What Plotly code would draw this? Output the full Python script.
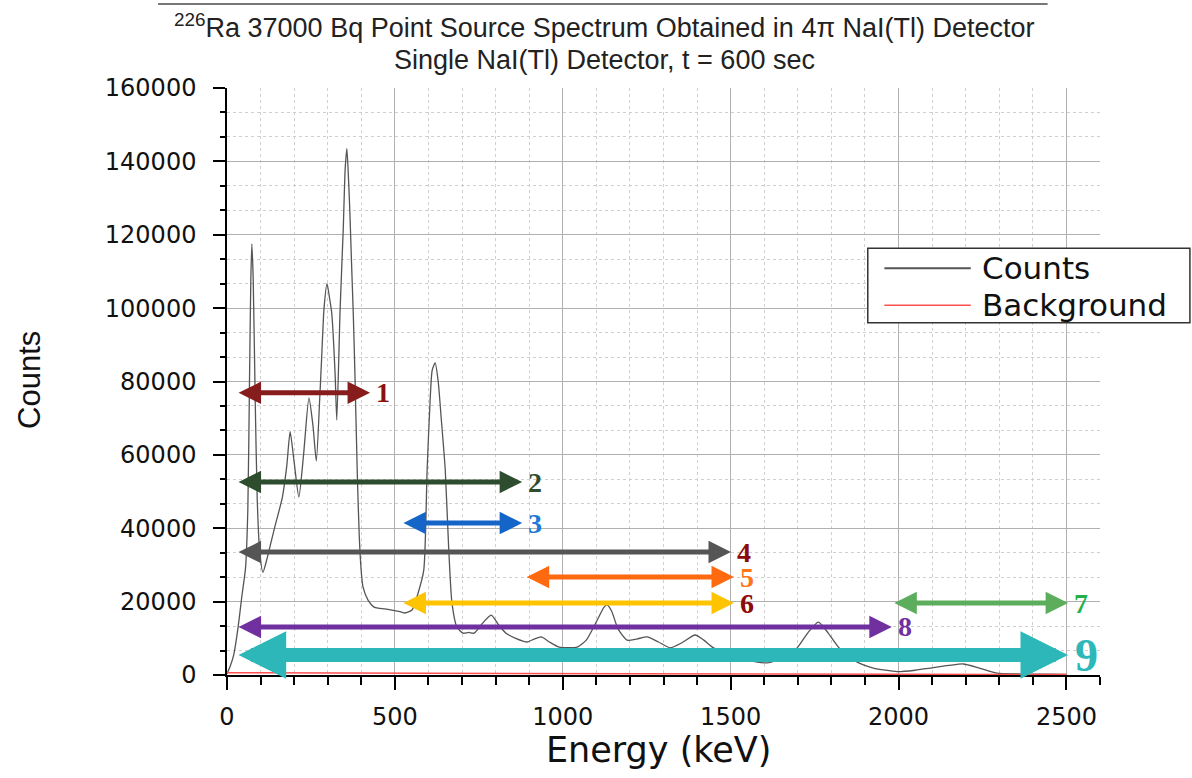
import plotly.graph_objects as go

# ---------------- data ----------------
energy_kev = [0, 10, 20, 33, 45, 55, 62, 67, 71, 74, 78, 84, 90, 97, 107, 120, 140, 165, 178, 188,
              200, 214, 228, 244, 256, 266, 276, 282, 289, 298, 305, 312, 322, 327, 337, 346, 352,
              357, 362, 366, 371, 376, 381, 388, 394, 400, 405, 420, 438, 450, 470, 491, 515, 530,
              551, 569, 586, 596, 605, 611, 620, 629, 638, 650, 660, 670, 685, 703, 720, 736, 760,
              787, 810, 831, 860, 894, 915, 936, 960, 989, 1043, 1070, 1100, 1123, 1132, 1145, 1165,
              1192, 1220, 1251, 1285, 1320, 1355, 1394, 1420, 1449, 1500, 1550, 1609, 1650, 1698,
              1730, 1761, 1790, 1821, 1877, 1925, 1996, 2050, 2095, 2150, 2193, 2240, 2294, 2343,
              2400, 2450, 2500]
counts = [300, 2500, 5500, 13000, 22000, 29000, 45000, 80000, 108000, 117500, 108000, 75000, 48000,
          34000, 28000, 32000, 39500, 48500, 57000, 66300, 58000, 48500, 60000, 75500, 68000, 58300,
          75000, 86700, 100000, 106700, 103000, 98600, 82000, 69500, 100000, 121000, 138000, 143500,
          135000, 126000, 112000, 98700, 82000, 55000, 37600, 28000, 24000, 20400, 18500, 18200,
          18000, 17700, 17300, 16900, 17700, 22300, 28600, 55900, 75000, 83000, 85100, 80000, 70000,
          55900, 35000, 19600, 13000, 11400, 11600, 11400, 14000, 16300, 13500, 11400, 10000, 9000,
          9800, 10400, 9000, 7600, 7600, 9500, 14500, 18500, 19100, 17500, 12500, 9500, 9800, 10400,
          9000, 7400, 8800, 10900, 9500, 7400, 5500, 4000, 3300, 4500, 7400, 11500, 14400, 11500,
          7600, 3500, 1900, 900, 1300, 1900, 2600, 3000, 1900, 500, 300, 250, 200, 150]

bg_energy_kev = [0, 500, 1000, 1500, 2000, 2500]
bg_counts = [600, 450, 350, 250, 200, 150]

x_ticks = [0, 500, 1000, 1500, 2000, 2500]
y_ticks = [0, 20000, 40000, 60000, 80000, 100000, 120000, 140000, 160000]

series_names = ["Counts", "Background"]

# energy windows shown by the numbered double arrows
window_labels = ["1", "2", "3", "4", "5", "6", "7", "8", "9"]
window_start = [30, 30, 521, 30, 888, 521, 1983, 30, 30]
window_end = [426, 879, 879, 1501, 1510, 1510, 2505, 1980, 2505]
window_level = [76900, 52600, 41400, 33500, 26700, 19600, 19600, 13100, 5450]

# ---------------- styles ----------------
counts_color = "#555555"
bg_color = "#ff5050"
arrow_colors = ["#861c1c", "#2e4d2e", "#1565c8", "#555555", "#ff6a10",
                "#ffc400", "#5cad5c", "#7030a0", "#2db7b8"]
label_colors = ["#8b1010", "#2e4d2e", "#1e7ad6", "#8b0a0a", "#ff7418",
                "#8b0a0a", "#22b04b", "#7030a0", "#2db7b8"]
arrow_widths = [5, 5, 5, 5, 5, 5, 5, 5, 14]
arrow_sizes = [0.9, 0.9, 0.9, 0.9, 0.9, 0.9, 0.9, 0.9, 0.68]
label_sizes = [28, 28, 28, 28, 28, 28, 28, 28, 46]
label_dx = [12, 12, 12, 12, 12, 12, 12, 12, 14]  # keV offset of label from arrow tip

fig = go.Figure()
fig.add_trace(go.Scatter(x=energy_kev, y=counts, mode="lines", name=series_names[0],
                         showlegend=False,
                         line=dict(color=counts_color, width=1.3, shape="spline", smoothing=0.6)))
fig.add_trace(go.Scatter(x=bg_energy_kev, y=bg_counts, mode="lines", name=series_names[1],
                         showlegend=False, line=dict(color=bg_color, width=1.5)))

annotations = []
for lab, s, e, lv, ac, lc, aw, asz, ls, dx in zip(window_labels, window_start, window_end,
                                                   window_level, arrow_colors, label_colors,
                                                   arrow_widths, arrow_sizes, label_sizes, label_dx):
    annotations.append(dict(x=e, y=lv, ax=s, ay=lv, xref="x", yref="y", axref="x", ayref="y",
                            text="", showarrow=True, arrowside="end+start",
                            arrowhead=2, startarrowhead=2, arrowsize=asz, startarrowsize=asz,
                            arrowwidth=aw, arrowcolor=ac, standoff=0, startstandoff=0))
    annotations.append(dict(x=e + dx, y=lv, xref="x", yref="y", text="<b>%s</b>" % lab,
                            showarrow=False, xanchor="left", yanchor="middle",
                            font=dict(family="Liberation Serif, Times New Roman, serif",
                                      size=ls, color=lc)))

title_font = dict(family="Liberation Sans, Arial, sans-serif", size=27, color="#222222")
annotations.append(dict(x=0.432, y=1.106, xref="paper", yref="paper", showarrow=False,
                        text="<sup>226</sup>Ra 37000 Bq Point Source Spectrum Obtained in 4π NaI(Tl) Detector",
                        xanchor="center", yanchor="middle", font=title_font))
annotations.append(dict(x=0.432, y=1.048, xref="paper", yref="paper", showarrow=False,
                        text="Single NaI(Tl) Detector, t = 600 sec",
                        xanchor="center", yanchor="middle", font=title_font))
annotations.append(dict(x=-0.2257, y=0.5026, xref="paper", yref="paper", showarrow=False,
                        text="Counts", textangle=-90, xanchor="center", yanchor="middle",
                        font=dict(family="Liberation Sans, Arial, sans-serif", size=31, color="#111111")))
annotations.append(dict(x=0.4937, y=-0.128, xref="paper", yref="paper", showarrow=False,
                        text="Energy (keV)", xanchor="center", yanchor="middle",
                        font=dict(family="DejaVu Sans, sans-serif", size=35, color="#111111")))

# legend drawn as a box with line samples (paper coordinates)
leg_font = dict(family="DejaVu Sans, sans-serif", size=31, color="#111111")
leg_x0, leg_x1, leg_y0, leg_y1 = 0.734, 1.103, 0.600, 0.727
leg_rows = [0.693, 0.630]
leg_line_x = [0.753, 0.852]
leg_text_x = 0.862
shapes = [dict(type="line", xref="paper", yref="paper", x0=-0.079, x1=0.94, y0=1.143, y1=1.143,
               line=dict(color="#777777", width=2)),
          dict(type="rect", xref="paper", yref="paper", x0=leg_x0, x1=leg_x1, y0=leg_y0, y1=leg_y1,
               line=dict(color="#333333", width=1.5), fillcolor="white", layer="above")]
for name, col, ry in zip(series_names, [counts_color, bg_color], leg_rows):
    shapes.append(dict(type="line", xref="paper", yref="paper", x0=leg_line_x[0], x1=leg_line_x[1],
                       y0=ry, y1=ry, line=dict(color=col, width=2 if col == counts_color else 1.5),
                       layer="above"))
    annotations.append(dict(x=leg_text_x, y=ry, xref="paper", yref="paper", showarrow=False,
                            text=name, xanchor="left", yanchor="middle", font=leg_font))

tick_font = dict(family="DejaVu Sans, sans-serif", size=24, color="#111111")

fig.update_layout(
    width=1192, height=778,
    margin=dict(l=227, r=92, t=88, b=103),
    paper_bgcolor="white", plot_bgcolor="white",
    showlegend=False,
    annotations=annotations,
    shapes=shapes,
    xaxis=dict(range=[0, 2600], tickvals=x_ticks, ticks="outside", ticklen=13, tickwidth=1.5,
               tickcolor="black", showline=True, linecolor="black", linewidth=1.5,
               showgrid=True, gridcolor="#b0b0b0", gridwidth=1, zeroline=False,
               tickfont=tick_font, ticklabelstandoff=6,
               minor=dict(dtick=100, ticks="outside", ticklen=8, tickwidth=1.5, tickcolor="black",
                          showgrid=True, gridcolor="#cfcfcf", griddash="dot", gridwidth=1)),
    yaxis=dict(range=[0, 160000], tickvals=y_ticks, ticks="outside", ticklen=12, tickwidth=1.5,
               tickcolor="black", showline=True, linecolor="black", linewidth=1.5,
               showgrid=True, gridcolor="#b0b0b0", gridwidth=1, zeroline=False,
               tickfont=tick_font, ticklabelstandoff=12, tickformat="d",
               minor=dict(dtick=20000 / 3, ticks="outside", ticklen=5, tickwidth=1.5,
                          tickcolor="black", showgrid=True, gridcolor="#cfcfcf",
                          griddash="dot", gridwidth=1)),
)

fig.write_html("out.html")
